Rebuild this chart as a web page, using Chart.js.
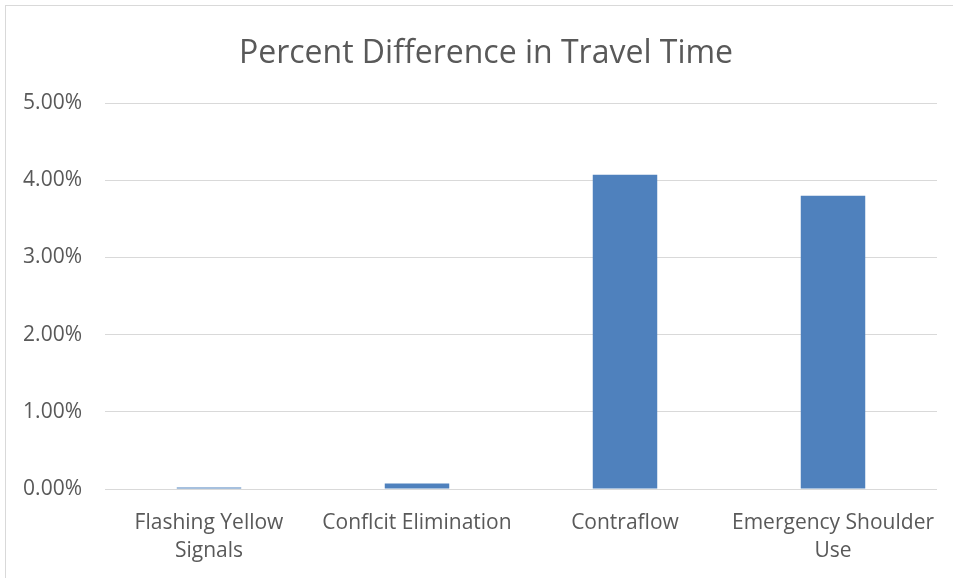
<!DOCTYPE html>
<html>
<head>
<meta charset="utf-8">
<script src="https://cdn.jsdelivr.net/npm/chart.js@4/dist/chart.umd.min.js"></script>
<style>
  html, body { margin: 0; padding: 0; background: #fff; }
  #wrap { position: absolute; left: 0; top: 0; width: 953px; height: 578px; }
  #frame { position: absolute; left: 5px; top: 5px; width: 960px; height: 600px;
           border-left: 1px solid #d9d9d9; border-top: 1px solid #d9d9d9; }
</style>
</head>
<body>
<div id="wrap">
  <div id="frame"></div>
  <canvas id="chart" width="953" height="578"></canvas>
</div>
<script>
const categories = [
  ["Flashing Yellow", "Signals"],
  "Conflcit Elimination",
  "Contraflow",
  ["Emergency Shoulder", "Use"],
];
const percentDiff = [0.02, 0.07, 4.07, 3.80];
const tickValues = [0, 1, 2, 3, 4, 5];

const textColor = "#595959";
const fontFamily = "'Open Sans', 'Liberation Sans', sans-serif";

// the title sits a little right of the canvas centre, as in the original
const shiftTitle = {
  id: "shiftTitle",
  afterLayout: (chart) => {
    if (chart.titleBlock) chart.titleBlock.left += 35;
  },
};

const configFor = function () {
  return {
    type: "bar",
    data: {
      labels: categories,
      datasets: [
        {
          label: "Percent Difference in Travel Time",
          data: percentDiff,
          backgroundColor: "#4f81bd",
          categoryPercentage: 1,
          barPercentage: 0.31,
        },
      ],
    },
    options: {
      responsive: false,
      animation: false,
      layout: { padding: { top: 35, left: 0, right: 16, bottom: 0 } },
      plugins: {
        legend: { display: false },
        tooltip: { enabled: false },
        title: {
          display: true,
          text: "Percent Difference in Travel Time",
          color: textColor,
          font: { family: fontFamily, size: 32, weight: "normal", lineHeight: 1.2 },
          padding: { top: 0, bottom: 29.6 },
        },
      },
      scales: {
        x: {
          grid: { display: false },
          border: { display: false },
          ticks: {
            color: textColor,
            font: { family: fontFamily, size: 21, lineHeight: 1.33 },
            maxRotation: 0,
            autoSkip: false,
            padding: 12,
          },
          afterFit: (axis) => { axis.height = 89; },
        },
        y: {
          min: 0,
          max: 5,
          afterBuildTicks: (axis) => {
            axis.ticks = tickValues.map((v) => ({ value: v }));
          },
          grid: { color: "#d9d9d9", lineWidth: 1, drawTicks: false },
          border: { display: false },
          ticks: {
            color: textColor,
            font: { family: fontFamily, size: 21 },
            padding: 23,
            callback: (v) => v.toFixed(2) + "%",
          },
          afterFit: (axis) => { axis.width = 105; },
        },
      },
    },
    plugins: [shiftTitle],
  };
};

new Chart(document.getElementById("chart"), configFor());
</script>
</body>
</html>
